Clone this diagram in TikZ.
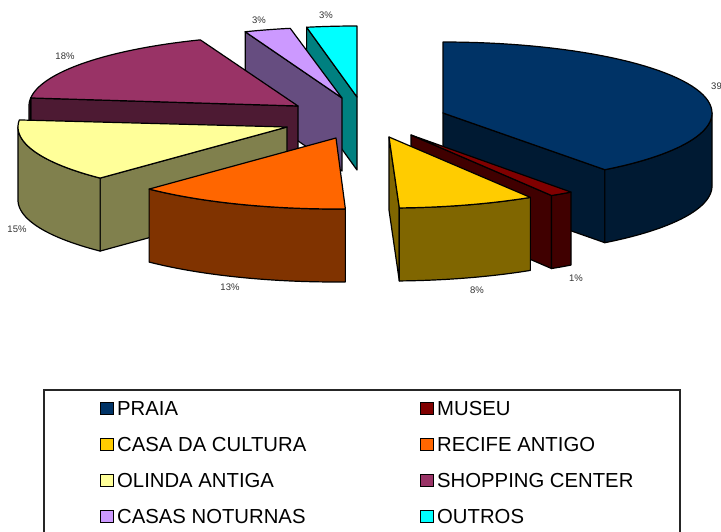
\documentclass[tikz,border=0pt]{standalone}
\usepackage{fontspec}
\setmainfont{Liberation Sans}
\definecolor{praiaT}{HTML}{003366}\definecolor{praiaS}{HTML}{001A33}
\definecolor{museuT}{HTML}{800000}\definecolor{museuS}{HTML}{400000}
\definecolor{culturaT}{HTML}{FFCC00}\definecolor{culturaS}{HTML}{806600}
\definecolor{recifeT}{HTML}{FF6600}\definecolor{recifeS}{HTML}{803300}
\definecolor{olindaT}{HTML}{FFFF99}\definecolor{olindaS}{HTML}{80804D}
\definecolor{shopT}{HTML}{993366}\definecolor{shopS}{HTML}{4D1A33}
\definecolor{noturT}{HTML}{CC99FF}\definecolor{noturS}{HTML}{664D80}
\definecolor{outrosT}{HTML}{00FFFF}\definecolor{outrosS}{HTML}{008080}
\newcommand\PieTop[5]{\filldraw[pieface,fill=#5] (#1,#2) -- plot[domain=#3:#4,samples=60] ({#1+269*cos(\x)},{#2-71*sin(\x)}) -- cycle;}
\newcommand\PieOuter[5]{\filldraw[pieface,fill=#5] plot[domain=#3:#4,samples=60] ({#1+269*cos(\x)},{#2-71*sin(\x)}) -- plot[domain=#4:#3,samples=60] ({#1+269*cos(\x)},{#2+73-71*sin(\x)}) -- cycle;}
\newcommand\PieSide[4]{\filldraw[pieface,fill=#4] (#1,#2) -- ({#1+269*cos(#3)},{#2-71*sin(#3)}) -- ({#1+269*cos(#3)},{#2+73-71*sin(#3)}) -- (#1,{#2+73}) -- cycle;}
\begin{document}
\begin{tikzpicture}[x=1pt,y=-1pt,
  pieface/.style={draw=black,line width=1.2pt,line join=round},
  lbl/.style={font=\fontsize{9.5}{10}\selectfont,text=black!80,inner sep=0pt},
  legtxt/.style={font=\fontsize{20.3}{23}\selectfont,anchor=base west,inner sep=0pt},
  legsq/.style={draw=black,line width=0.8pt}]
\useasboundingbox (0,0) rectangle (721,532);
\clip (0,0) rectangle (721,532);
\fill[white] (0,0) rectangle (721,532);
% OUTROS
\PieSide{357}{97}{100.8}{outrosS}
\PieTop{357}{97}{90}{100.8}{outrosT}
% CASAS NOTURNAS
\PieSide{342}{98}{111.1}{noturS}
\PieTop{342}{98}{101.1}{111.1}{noturT}
% SHOPPING CENTER
\PieSide{298}{106}{173.5}{shopS}
\PieOuter{298}{106}{173.5}{180}{shopS}
\PieTop{298}{106}{111.3}{173.5}{shopT}
% OLINDA ANTIGA
\PieSide{287}{127}{-134}{olindaS}
\PieOuter{287}{127}{-180}{-134}{olindaS}
\PieTop{287}{127}{-185.7}{-134}{olindaT}
% RECIFE ANTIGO
\PieOuter{336}{138}{-134}{-88}{recifeS}
\PieTop{336}{138}{-134}{-88}{recifeT}
% PRAIA
\PieSide{443}{113}{-53}{praiaS}
\PieOuter{443}{113}{-53}{0}{praiaS}
\PieTop{443}{113}{-53}{90}{praiaT}
% MUSEU
\PieSide{411}{135}{-58.5}{museuS}
\PieOuter{411}{135}{-58.5}{-53.5}{museuS}
\PieTop{411}{135}{-58.5}{-53.5}{museuT}
% CASA DA CULTURA
\PieSide{389}{137}{-87.8}{culturaS}
\PieOuter{389}{137}{-87.8}{-58.3}{culturaS}
\PieTop{389}{137}{-87.8}{-58.3}{culturaT}
% percentage labels
\node[lbl] (l39) at (716.5,86) {39};
\node[lbl] (l3a) at (259,20) {3\%};
\node[lbl] (l3b) at (326,15) {3\%};
\node[lbl] (l18) at (65,56) {18\%};
\node[lbl] (l15) at (17,229) {15\%};
\node[lbl] (l13) at (230,287) {13\%};
\node[lbl] (l8) at (477,290) {8\%};
\node[lbl] (l1) at (576,278) {1\%};
% legend
\draw[line width=1.3pt,draw=black!85] (44,390) rectangle (680,560);
\filldraw[legsq,fill=praiaT] (100,402) rectangle (113,414);
\node[legtxt] (t1) at (117,415) {PRAIA};
\filldraw[legsq,fill=culturaT] (100,438) rectangle (113,450);
\node[legtxt] (t3) at (117,451) {CASA DA CULTURA};
\filldraw[legsq,fill=olindaT] (100,474) rectangle (113,486);
\node[legtxt] (t5) at (117,487) {OLINDA ANTIGA};
\filldraw[legsq,fill=noturT] (100,510) rectangle (113,522);
\node[legtxt] (t7) at (117,523) {CASAS NOTURNAS};
\filldraw[legsq,fill=museuT] (420,402) rectangle (433,414);
\node[legtxt] (t2) at (437,415) {MUSEU};
\filldraw[legsq,fill=recifeT] (420,438) rectangle (433,450);
\node[legtxt] (t4) at (437,451) {RECIFE ANTIGO};
\filldraw[legsq,fill=shopT] (420,474) rectangle (433,486);
\node[legtxt] (t6) at (437,487) {SHOPPING CENTER};
\filldraw[legsq,fill=outrosT] (420,510) rectangle (433,522);
\node[legtxt] (t8) at (437,523) {OUTROS};
\end{tikzpicture}
\end{document}
